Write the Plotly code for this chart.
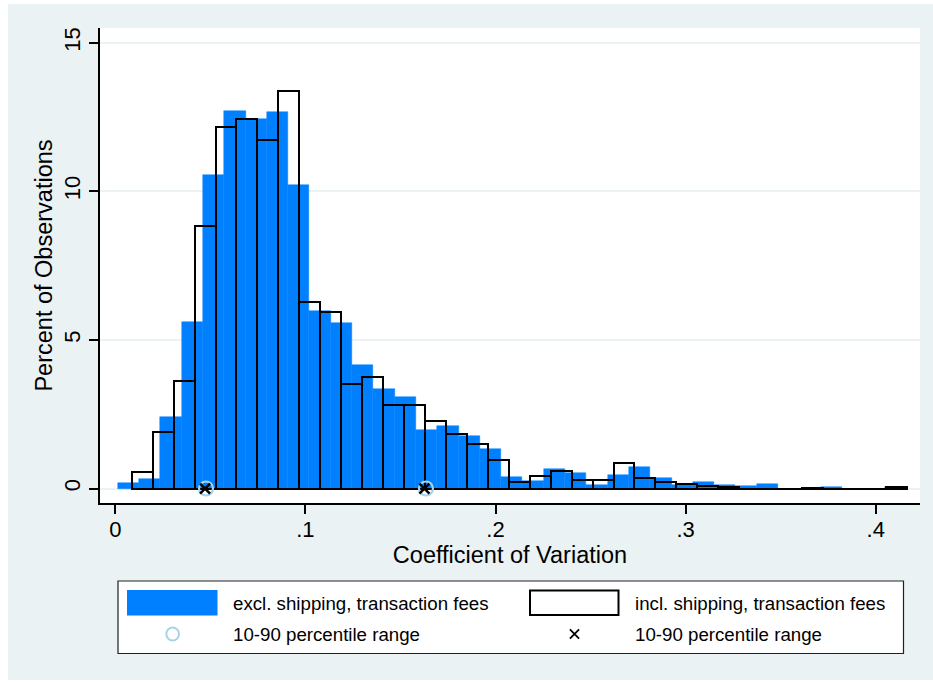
import plotly.graph_objects as go

# ---------------- data ----------------
# Histogram: excl. shipping, transaction fees (percent of observations per bin)
excl_bin_start = 0.00126
excl_bin_width = 0.011205
excl_pct = [0.19, 0.32, 2.41, 5.60, 10.55, 12.71, 12.44, 12.67, 10.21, 5.96,
            5.57, 4.15, 3.36, 3.08, 1.98, 2.12, 1.76, 1.33, 0.40, 0.25,
            0.64, 0.53, 0.13, 0.46, 0.73, 0.35, 0.12, 0.22, 0.12, 0.09,
            0.14, 0.0, 0.0, 0.06, 0.0, 0.0, 0.06]

# Histogram: incl. shipping, transaction fees
incl_bin_start = 0.00863
incl_bin_width = 0.01102
incl_pct = [0.55, 1.89, 3.63, 8.82, 12.15, 12.44, 11.73, 13.39, 6.28, 5.94,
            3.53, 3.74, 2.82, 2.82, 2.26, 1.85, 1.50, 0.96, 0.22, 0.42,
            0.59, 0.30, 0.28, 0.85, 0.34, 0.23, 0.14, 0.09, 0.04, 0.0,
            0.0, 0.0, 0.03, 0.0, 0.0, 0.0, 0.04]

# 10th and 90th percentiles
excl_p10_p90 = [0.0477, 0.1634]
incl_p10_p90 = [0.0472, 0.1626]

x_tickvals = [0, 0.1, 0.2, 0.3, 0.4]
x_ticktext = ["0", ".1", ".2", ".3", ".4"]
y_tickvals = [0, 5, 10, 15]
y_ticktext = ["0", "5", "10", "15"]

legend_labels = ["excl. shipping, transaction fees", "incl. shipping, transaction fees",
                 "10-90 percentile range", "10-90 percentile range"]

# ---------------- styles ----------------
BLUE = "#0080ff"
LTBLUE = "#a6d3e6"
BG = "#eaf2f3"
FONT = "Liberation Sans, Arial, sans-serif"

excl_centers = [excl_bin_start + excl_bin_width * (i + 0.5) for i in range(len(excl_pct))]
incl_centers = [incl_bin_start + incl_bin_width * (i + 0.5) for i in range(len(incl_pct))]

fig = go.Figure()
fig.add_trace(go.Bar(
    x=excl_centers, y=excl_pct, width=excl_bin_width,
    marker=dict(color=BLUE, line=dict(color=BLUE, width=0.5)),
    name=legend_labels[0]))
fig.add_trace(go.Bar(
    x=incl_centers, y=incl_pct, width=incl_bin_width,
    marker=dict(color="rgba(0,0,0,0)", line=dict(color="black", width=2)),
    name=legend_labels[1]))
fig.add_trace(go.Scatter(
    x=excl_p10_p90, y=[0, 0], mode="markers",
    marker=dict(symbol="circle-open", size=14, color=LTBLUE, line=dict(width=2.2)),
    name=legend_labels[2]))
fig.add_trace(go.Scatter(
    x=incl_p10_p90, y=[0, 0], mode="markers",
    marker=dict(symbol="x-thin", size=10, color="black", line=dict(width=2.5, color="black")),
    name=legend_labels[3]))

# plot area in pixels: x 100..920, y 28..503
L, R, T, B = 100, 920, 28, 503
def px(xp):
    return (xp - L) / (R - L)
def py(yp):
    return (B - yp) / (B - T)

shapes = []
# thin white border around grey graph region
for (x0, x1, y0, y1) in [(0, 8, 0, 682), (0, 933, 0, 4), (0, 933, 680, 682)]:
    shapes.append(dict(type="rect", xref="paper", yref="paper", layer="below",
                       x0=px(x0), x1=px(x1), y0=py(y1), y1=py(y0),
                       fillcolor="white", line=dict(width=0)))
# legend box
shapes.append(dict(type="rect", xref="paper", yref="paper",
                   x0=px(118), x1=px(903.5), y0=py(653.5), y1=py(581),
                   fillcolor="white", line=dict(color="#202020", width=1.2), layer="above"))
# legend keys
shapes.append(dict(type="rect", xref="paper", yref="paper",
                   x0=px(127), x1=px(217.5), y0=py(615.5), y1=py(590),
                   fillcolor=BLUE, line=dict(width=0), layer="above"))
shapes.append(dict(type="rect", xref="paper", yref="paper",
                   x0=px(530), x1=px(618.5), y0=py(615), y1=py(590.5),
                   fillcolor="white", line=dict(color="black", width=2), layer="above"))
shapes.append(dict(type="circle", xref="paper", yref="paper",
                   x0=px(166.3), x1=px(179), y0=py(640.5), y1=py(627.5),
                   fillcolor="rgba(0,0,0,0)", line=dict(color=LTBLUE, width=2), layer="above"))
cx, cy, h = 574.5, 634, 4.6
shapes.append(dict(type="path", xref="paper", yref="paper", layer="above",
                   path=f"M {px(cx-h)} {py(cy-h)} L {px(cx+h)} {py(cy+h)} "
                        f"M {px(cx-h)} {py(cy+h)} L {px(cx+h)} {py(cy-h)}",
                   line=dict(color="black", width=1.8)))

annotations = []
for (xp, yp, txt) in [(231, 603.5, legend_labels[0]), (632.5, 603.5, legend_labels[1]),
                      (231, 634, legend_labels[2]), (632.5, 634, legend_labels[3])]:
    annotations.append(dict(xref="paper", yref="paper", x=px(xp), y=py(yp),
                            xanchor="left", yanchor="middle", showarrow=False,
                            text=txt, font=dict(family=FONT, size=18.7, color="black")))

fig.update_layout(
    width=933, height=682,
    margin=dict(l=L, r=933 - R, t=T, b=682 - B),
    paper_bgcolor=BG, plot_bgcolor="white",
    showlegend=False, barmode="overlay", bargap=0,
    font=dict(family=FONT, color="black"),
    shapes=shapes, annotations=annotations,
)
fig.update_xaxes(
    range=[-0.00805, 0.4233], tickvals=x_tickvals, ticktext=x_ticktext,
    ticks="outside", ticklen=9, tickwidth=1.5, tickcolor="black",
    showline=True, linecolor="black", linewidth=1.5,
    showgrid=False, zeroline=False, ticklabelstandoff=-3,
    tickfont=dict(size=22, family=FONT, color="black"),
    title=dict(text="Coefficient of Variation", font=dict(size=23.5, family=FONT, color="black"),
               standoff=1),
)
fig.update_yaxes(
    range=[-0.4876, 15.494], tickvals=y_tickvals, ticktext=y_ticktext, tickangle=-90,
    ticks="outside", ticklen=9, tickwidth=1.5, tickcolor="black",
    showline=True, linecolor="black", linewidth=1.5,
    showgrid=True, gridcolor=BG, gridwidth=1.5, zeroline=False,
    tickfont=dict(size=22, family=FONT, color="black"),
    title=dict(text="Percent of Observations", font=dict(size=23.5, family=FONT, color="black"),
               standoff=1),
)

fig.write_html("out.html")
